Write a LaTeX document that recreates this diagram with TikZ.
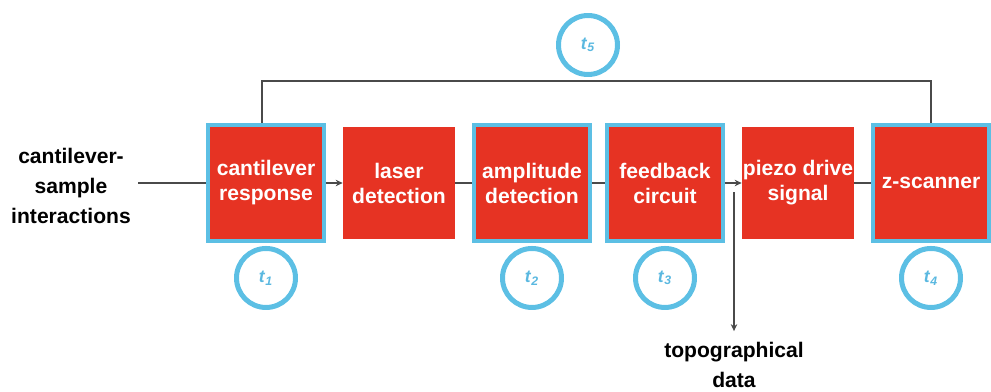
\documentclass[tikz,border=0pt]{standalone}
\usepackage{fontspec}
\setmainfont{Liberation Sans}
\usepackage{xcolor}
\usetikzlibrary{arrows.meta,positioning}
\definecolor{boxred}{HTML}{E63323}
\definecolor{ringblue}{HTML}{5CBFE4}
\definecolor{labelblue}{HTML}{5AB8E0}
\definecolor{wiregray}{HTML}{4A4A4A}
\newcommand{\tsub}[1]{\textbf{\textit{t}}\textsubscript{\textbf{\textit{#1}}}}
\tikzset{
  redbox/.style={fill=boxred,text=white,minimum size=2.24cm,inner sep=0pt,
                 align=center,font=\fontsize{12}{14.2}\selectfont\bfseries},
  ringbox/.style={redbox,draw=ringblue,line width=0.08cm,minimum size=2.32cm},
  timer/.style={circle,draw=ringblue,line width=0.1cm,minimum size=1.18cm,
                inner sep=0pt,text=labelblue,font=\fontsize{10}{12}\selectfont},
  plain/.style={align=center,font=\fontsize{12}{17}\selectfont\bfseries},
  wire/.style={line width=0.9pt,draw=wiregray},
  wirearr/.style={wire,-{Stealth[length=1.4mm,width=1.3mm]}}
}
\begin{document}
\begin{tikzpicture}[x=0.02cm,y=-0.02cm]
  \path[use as bounding box] (0,0) rectangle (991,392);

  % chain of blocks
  \node[ringbox] (resp)  at (266,183) {cantilever\\response};
  \node[redbox]  (laser) at (399,183) {laser\\detection};
  \node[ringbox] (ampl)  at (532,183) {amplitude\\detection};
  \node[ringbox] (fback) at (665,183) {feedback\\circuit};
  \node[redbox]  (piezo) at (798,183) {piezo drive\\signal};
  \node[ringbox] (zscan) at (931,183) {z-scanner};

  % time constants
  \node[timer,below=0.06cm of resp]  (t1) {\tsub{1}};
  \node[timer,below=0.06cm of ampl]  (t2) {\tsub{2}};
  \node[timer,below=0.06cm of fback] (t3) {\tsub{3}};
  \node[timer,below=0.06cm of zscan] (t4) {\tsub{4}};
  \node[timer] (t5) at (588,45) {\tsub{5}};

  % input and output
  \node[plain] (inter) at (71,186) {cantilever-\\sample\\interactions};
  \node[plain] (topo) at (734,365) {topographical\\data};
  \coordinate (in) at (138,183);
  \coordinate (tap) at (734,192);
  \coordinate (loop) at (0,81);

  \draw[wire] (in) -- (resp);
  \draw[wirearr] (resp) -- (laser);
  \draw[wire] (laser) -- (ampl);
  \draw[wire] (ampl) -- (fback);
  \draw[wirearr] (fback) -- (piezo);
  \draw[wire] (piezo) -- (zscan);
  \draw[wirearr] (tap) -- ([yshift=0.1cm]tap |- topo.north);

  % feedback loop
  \draw[wire] ([xshift=-0.08cm]resp.north) |- (loop -| zscan) -- (zscan.north);
\end{tikzpicture}
\end{document}
